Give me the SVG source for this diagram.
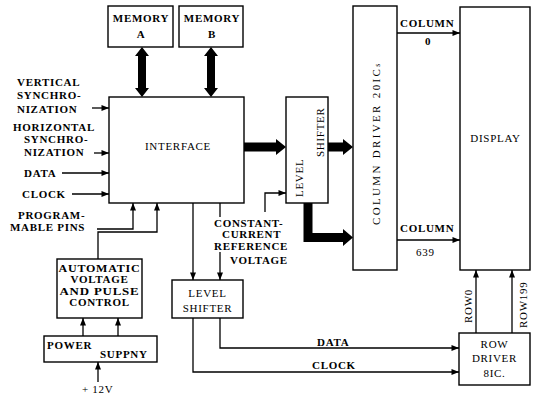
<svg xmlns="http://www.w3.org/2000/svg" width="533" height="396" viewBox="0 0 533 396">
<defs>
<marker id="ah" viewBox="0 0 10 8" refX="10" refY="4" markerWidth="8" markerHeight="6" markerUnits="userSpaceOnUse" orient="auto">
<path d="M0,0 L10,4 L0,8 Z" fill="#000"/>
</marker>
</defs>
<style>
.box{fill:#fff;stroke:#000;stroke-width:1.4}
.ln{fill:none;stroke:#000;stroke-width:1.3}
.ar{fill:none;stroke:#000;stroke-width:1.3;marker-end:url(#ah)}
.thick{fill:#000;stroke:none}
text{font-family:"Liberation Serif","DejaVu Serif",serif;font-weight:bold;font-size:11px;letter-spacing:0.7px;fill:#000}
.c{text-anchor:middle}
.n{font-weight:normal}
</style>
<rect width="533" height="396" fill="#fff"/>

<g id="memA"><rect class="box" x="108" y="6" width="65" height="41"/><text class="c" x="141" y="22">MEMORY</text><text class="c" x="141" y="38">A</text></g>
<g id="memB"><rect class="box" x="179" y="6" width="64" height="41"/><text class="c" x="212" y="22">MEMORY</text><text class="c" x="212" y="38">B</text></g>
<g id="interface"><rect class="box" x="109" y="97" width="135" height="106"/><text class="c n" x="178" y="150" font-size="13" letter-spacing="1">INTERFACE</text></g>
<g id="levelshifter1"><rect class="box" x="286" y="97" width="42" height="106"/>
<text class="n" transform="translate(303,197) rotate(-90)" font-size="12">LEVEL</text>
<text class="n" transform="translate(324,157) rotate(-90)" font-size="12">SHIFTER</text></g>
<g id="columndriver"><rect class="box" x="353" y="6" width="44" height="264"/>
<text class="n" transform="translate(380,225) rotate(-90)" font-size="12" textLength="162" lengthAdjust="spacing">COLUMN DRIVER 20IC<tspan font-size="8">s</tspan></text></g>
<g id="display"><rect class="box" x="460" y="7" width="70" height="263"/><text class="c n" x="495.5" y="142" font-size="12" letter-spacing="1.5">DISPLAY</text></g>
<g id="rowdriver"><rect class="box" x="459" y="333" width="71" height="52"/>
<text class="c n" x="494.5" y="348" font-size="12" letter-spacing="1">ROW</text><text class="c n" x="494.5" y="362" font-size="12" letter-spacing="1">DRIVER</text><text class="c n" x="494.5" y="377" font-size="12">8IC.</text></g>
<g id="levelshifter2"><rect class="box" x="172" y="280" width="71" height="38"/><text class="c n" x="207.5" y="297" font-size="12" letter-spacing="1">LEVEL</text><text class="c n" x="207.5" y="312" font-size="12" letter-spacing="1">SHIFTER</text></g>
<g id="autovoltage"><rect class="box" x="57" y="259" width="85" height="59"/>
<text class="c" x="99.5" y="272" textLength="82" lengthAdjust="spacingAndGlyphs">AUTOMATIC</text>
<text class="c" x="99.5" y="283">VOLTAGE</text>
<text class="c" x="99.5" y="295" textLength="80" lengthAdjust="spacingAndGlyphs">AND PULSE</text>
<text class="c" x="99.5" y="306">CONTROL</text></g>
<g id="power"><rect class="box" x="44" y="336" width="113" height="26"/><text x="47" y="349">POWER</text><text x="100" y="358">SUPPNY</text></g>

<g id="labels">
<text x="17" y="86">VERTICAL</text>
<text x="17" y="99">SYNCHRO-</text>
<text x="17" y="113">NIZATION</text>
<text x="13" y="131">HORIZONTAL</text>
<text x="24" y="143">SYNCHRO-</text>
<text x="24" y="156">NIZATION</text>
<text x="24" y="177">DATA</text>
<text x="22" y="198">CLOCK</text>
<text x="18" y="219">PROGRAM-</text>
<text x="10" y="231">MABLE PINS</text>
<text x="214" y="227">CONSTANT-</text>
<text x="222" y="238">CURRENT</text>
<text x="214" y="250">REFERENCE</text>
<text x="230" y="264">VOLTAGE</text>
<text x="400" y="27">COLUMN</text>
<text x="425" y="45">0</text>
<text x="400" y="232">COLUMN</text>
<text class="n" x="416" y="256">639</text>
<text x="317" y="346">DATA</text>
<text x="312" y="369">CLOCK</text>
<text class="n" x="82" y="393">+ 12V</text>
<text class="n" transform="translate(472,323) rotate(-90)">ROW0</text>
<text class="n" transform="translate(527,328) rotate(-90)">ROW199</text>
</g>

<g id="connectors">
<path class="thick" d="M142,47 L149,56 L146,56 L146,88 L149,88 L142,97 L135,88 L138,88 L138,56 L135,56 Z"/>
<path class="thick" d="M211,47 L218,56 L215,56 L215,88 L218,88 L211,97 L204,88 L207,88 L207,56 L204,56 Z"/>
<path class="thick" d="M244,142.5 L276,142.5 L276,139 L286,147 L276,155 L276,151.5 L244,151.5 Z"/>
<path class="thick" d="M328,142.5 L343,142.5 L343,139 L353,147 L343,155 L343,151.5 L328,151.5 Z"/>
<path class="thick" d="M303.5,203 V242 H343 V246 L353,237.5 L343,229 V233 H312.5 V203 Z"/>
<line class="ar" x1="92" y1="108" x2="109" y2="108"/>
<line class="ar" x1="94" y1="153" x2="109" y2="153"/>
<line class="ar" x1="62" y1="173" x2="109" y2="173"/>
<line class="ar" x1="72" y1="194" x2="109" y2="194"/>
<polyline class="ar" points="97,229 133,229 133,203"/>
<polyline class="ar" points="98,259 98,232 157,232 157,203"/>
<line class="ar" x1="83" y1="336" x2="83" y2="318"/>
<line class="ar" x1="118" y1="336" x2="118" y2="318"/>
<line class="ar" x1="98" y1="382" x2="98" y2="362"/>
<line class="ar" x1="193" y1="203" x2="193" y2="280"/>
<line class="ln" x1="220" y1="203" x2="220" y2="217"/>
<line class="ar" x1="220" y1="252" x2="220" y2="280"/>
<polyline class="ar" points="265,212 265,193 286,193"/>
<line class="ar" x1="397" y1="33" x2="460" y2="33"/>
<line class="ar" x1="397" y1="240" x2="460" y2="240"/>
<line class="ar" x1="476" y1="333" x2="476" y2="270"/>
<line class="ar" x1="512" y1="333" x2="512" y2="270"/>
<polyline class="ar" points="220,318 220,348 459,348"/>
<polyline class="ar" points="193,318 193,372 459,372"/>
</g>
</svg>
